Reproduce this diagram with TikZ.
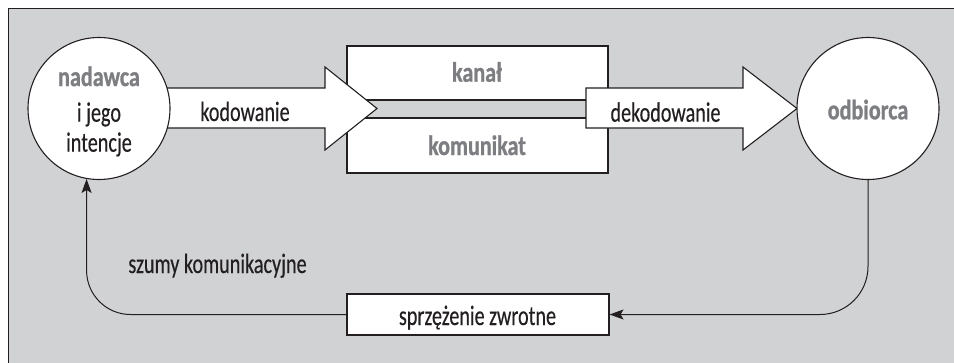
\documentclass[tikz,border=0pt]{standalone}
\usepackage{fontspec}
\setmainfont{Carlito}[FakeStretch=0.72, UprightFeatures={FakeBold=0.3}, BoldFeatures={FakeStretch=0.79, FakeBold=0.9}]
\usetikzlibrary{arrows.meta}
\definecolor{bg}{HTML}{D1D2D4}
\definecolor{txtgray}{HTML}{7D7E81}
\definecolor{ink}{HTML}{231F20}
\begin{document}
\begin{tikzpicture}[x=1pt,y=-1pt,
  frame/.style={fill=bg, draw=ink, line width=1pt},
  circ/.style={circle, draw=ink, fill=white, line width=1.1pt, minimum size=142pt, inner sep=0pt},
  wbox/.style={rectangle, draw=ink, fill=white, line width=1.1pt, inner sep=0pt},
  barrow/.style={draw=ink, fill=white, line width=1.1pt, line join=miter},
  lbl/.style={anchor=base, text=ink, inner sep=0pt, font=\fontsize{28}{30}\selectfont},
  key/.style={anchor=base, text=txtgray, inner sep=0pt, font=\fontsize{28}{30}\selectfont\bfseries},
  conn/.style={draw=ink, line width=1pt, -{Stealth[length=14pt,width=10pt,inset=3pt]}}
]
\useasboundingbox (0,0) rectangle (954,362);
\begin{scope}
\clip (0,0) rectangle (954,362);
\path[frame] (8,8) rectangle (975,380);
\end{scope}
% channel boxes
\node[wbox, minimum width=261pt, minimum height=54pt] (kanal) at (477.5,73) {};
\node[wbox, minimum width=261pt, minimum height=55pt] (kom) at (477.5,145.5) {};
\node[key] (kanalt) at (477,81.7) {kanał};
\node[key] (komt) at (477,155) {komunikat};
% block arrows
\path[barrow] (160,88) -- (325,88) -- (325,67) -- (377,108.5) -- (325,150) -- (325,128) -- (160,128) -- cycle;
\path[barrow] (586,88) -- (743,88) -- (743,67) -- (797,108.5) -- (743,150) -- (743,128) -- (586,128) -- cycle;
\node[lbl] (kod) at (245,121) {kodowanie};
\node[lbl] (dekod) at (665.5,121.7) {dekodowanie};
% circles
\node[circ] (nad) at (99,108.5) {};
\node[circ] (odb) at (868,108.5) {};
\node[key] (nad1) at (99,86) {nadawca};
\node[lbl] (nad2) at (99,121.7) {i jego};
\node[lbl] (nad3) at (99,151.7) {intencje};
\node[key] (odbt) at (868,119.3) {odbiorca};
% feedback
\node[wbox, minimum width=262pt, minimum height=41pt] (sprz) at (478,314.5) {};
\node[lbl] (sprzt) at (477.5,325) {sprzężenie zwrotne};
\node[lbl] (szum) at (217.5,273) {szumy komunikacyjne};
\draw[conn, rounded corners=48pt] (odb.south) |- (sprz.east);
\draw[conn, rounded corners=44pt] (sprz.west) -| (nad.260);
\end{tikzpicture}
\end{document}
